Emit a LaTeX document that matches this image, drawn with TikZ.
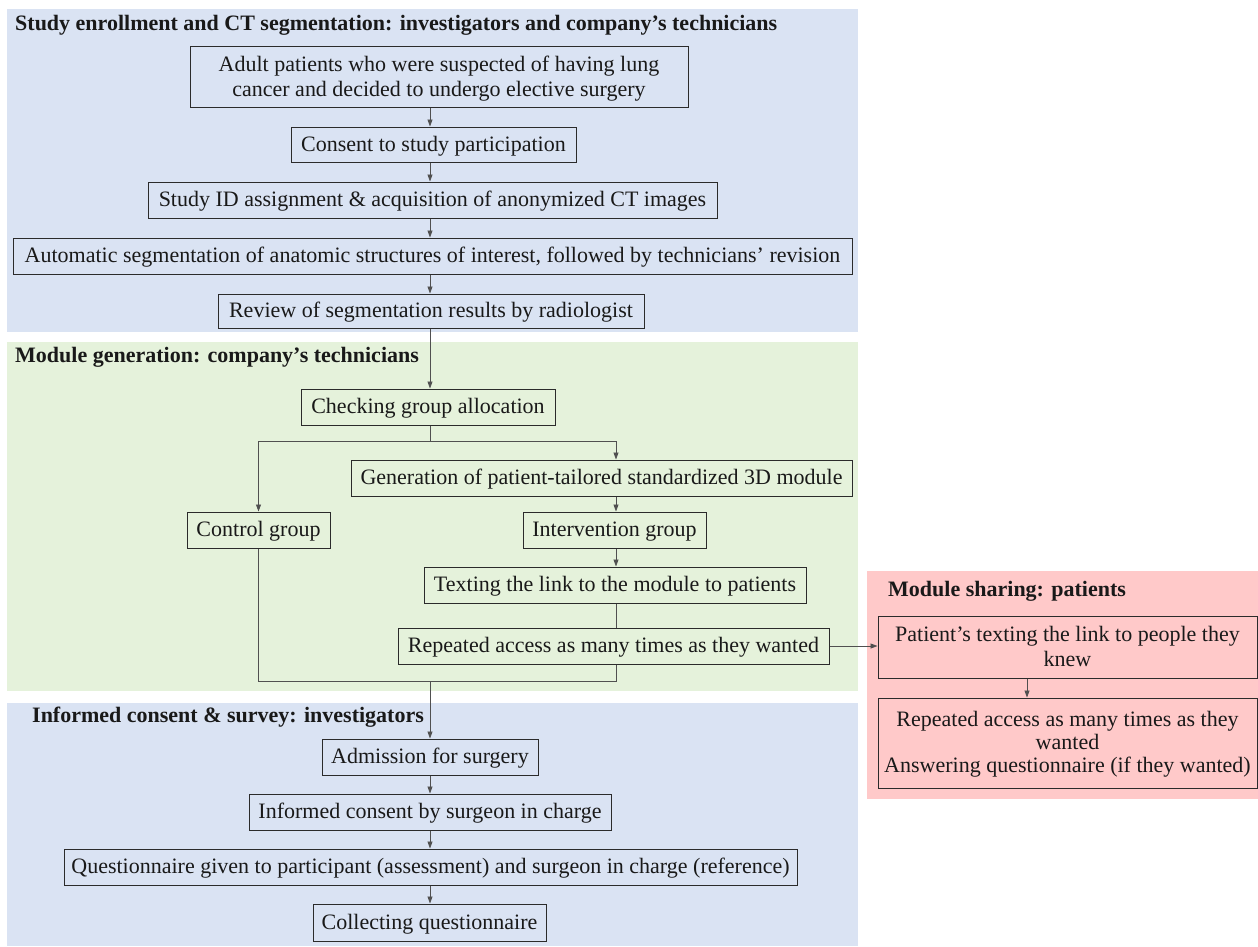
\documentclass[tikz,border=0pt]{standalone}
\usepackage{fontspec}
\setmainfont{Liberation Serif}
\usetikzlibrary{arrows.meta,calc}
\definecolor{pblue}{HTML}{DAE3F3}
\definecolor{pgreen}{HTML}{E5F2DB}
\definecolor{pred}{HTML}{FFC9C9}
\definecolor{boxline}{HTML}{2B2B2B}
\definecolor{lineC}{HTML}{505050}
\tikzset{
  box/.style={draw=boxline, line width=1pt, inner sep=0pt, align=center, text depth=2pt,
    font=\fontsize{22}{25}\selectfont, text=black!90},
  arr/.style={-{Triangle[length=7pt,width=5pt]}, line width=0.8pt, draw=lineC},
  ln/.style={line width=0.8pt, draw=lineC},
  ttl/.style={anchor=west, inner sep=0pt, font=\fontsize{22}{24}\selectfont\bfseries, text=black!90},
}
\begin{document}
\begin{tikzpicture}[x=1pt,y=-1pt]
\useasboundingbox (0,0) rectangle (1258,946);
% panels
\fill[pblue] (7,9) rectangle (858,332);
\fill[pgreen] (7,342) rectangle (858,691);
\fill[pblue] (7,703) rectangle (858,946);
\fill[pred] (867,571) rectangle (1258,799);
% titles
\node[ttl] (t1) at (15,25) {Study enrollment and CT segmentation: investigators and company’s technicians};
\node[ttl] (t2) at (15,357) {Module generation: company’s technicians};
\node[ttl] (t3) at (32,717) {Informed consent \& survey: investigators};
\node[ttl] (t4) at (888,591) {Module sharing: patients};
% columns
\coordinate (col) at (430,0);
\coordinate (intcol) at (616,0);
\coordinate (pcol) at (1027,0);
% panel 1
\node[box, minimum width=498pt, minimum height=61pt] (b1) at (439,77) {Adult patients who were suspected of having lung\\cancer and decided to undergo elective surgery};
\node[box, minimum width=285pt, minimum height=35pt] (b2) at (433.5,144.5) {Consent to study participation};
\node[box, minimum width=569pt, minimum height=36pt] (b3) at (432.5,200) {Study ID assignment \& acquisition of anonymized CT images};
\node[box, minimum width=839pt, minimum height=36pt] (b4) at (432.5,256) {Automatic segmentation of anatomic structures of interest, followed by technicians’ revision};
\node[box, minimum width=426pt, minimum height=34pt] (b5) at (431,311) {Review of segmentation results by radiologist};
% panel 2
\node[box, minimum width=254pt, minimum height=36pt] (b6) at (428,407) {Checking group allocation};
\node[box, minimum width=501pt, minimum height=36pt] (gen) at (601.5,478) {Generation of patient-tailored standardized 3D module};
\node[box, minimum width=143pt, minimum height=36pt] (ctrl) at (258.5,530) {Control group};
\node[box, minimum width=183pt, minimum height=36pt] (int) at (614.5,530) {Intervention group};
\node[box, minimum width=382pt, minimum height=36pt] (txt) at (615,585) {Texting the link to the module to patients};
\node[box, minimum width=431pt, minimum height=36pt] (rep) at (613.5,646) {Repeated access as many times as they wanted};
% panel 4
\node[box, minimum width=379pt, minimum height=62pt] (p1) at (1067.5,647) {Patient’s texting the link to people they\\knew};
\node[box, minimum width=379pt, minimum height=90pt, font=\fontsize{22}{23}\selectfont] (p2) at (1067.5,743) {Repeated access as many times as they\\wanted\\Answering questionnaire (if they wanted)};
% panel 3
\node[box, minimum width=216pt, minimum height=36pt] (adm) at (430,757) {Admission for surgery};
\node[box, minimum width=362pt, minimum height=36pt] (inf) at (430,812) {Informed consent by surgeon in charge};
\node[box, minimum width=733pt, minimum height=36pt] (q) at (430.5,867) {Questionnaire given to participant (assessment) and surgeon in charge (reference)};
\node[box, minimum width=233pt, minimum height=37pt] (col2) at (429.5,922.5) {Collecting questionnaire};
% connectors panel 1
\draw[arr] (b1.south -| col) -- (b2.north -| col);
\draw[arr] (b2.south -| col) -- (b3.north -| col);
\draw[arr] (b3.south -| col) -- (b4.north -| col);
\draw[arr] (b4.south -| col) -- (b5.north -| col);
\draw[arr] (b5.south -| col) -- (b6.north -| col);
% branch
\coordinate (split) at (430,441);
\draw[ln] (b6.south -| col) -- (split);
\draw[arr] (split) -| (ctrl.north);
\draw[arr] (split) -| (gen.north -| intcol);
\draw[arr] (gen.south -| intcol) -- (int.north -| intcol);
\draw[arr] (int.south -| intcol) -- (txt.north -| intcol);
\draw[ln] (txt.south -| intcol) -- (rep.north -| intcol);
% merge
\coordinate (merge) at (430,681);
\draw[ln] (rep.south -| intcol) |- (merge);
\draw[ln] (ctrl.south) |- (merge);
\draw[arr] (merge) -- (adm.north -| col);
% sharing
\draw[arr] (rep.east) -- (p1.west |- rep.east);
\draw[arr] (p1.south -| pcol) -- (p2.north -| pcol);
% panel 3
\draw[arr] (adm.south -| col) -- (inf.north -| col);
\draw[arr] (inf.south -| col) -- (q.north -| col);
\draw[arr] (q.south -| col) -- (col2.north -| col);
\end{tikzpicture}
\end{document}
